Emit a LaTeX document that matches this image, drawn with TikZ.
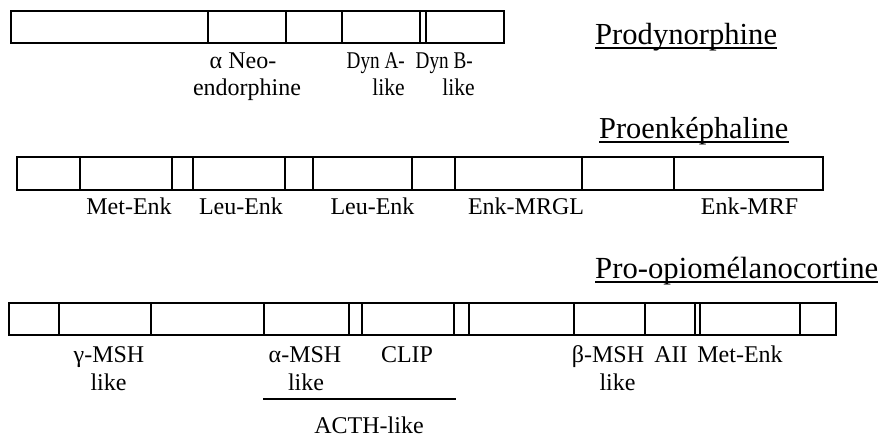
\documentclass[tikz,border=0pt]{standalone}
\usepackage{fontspec}
\usepackage{graphicx}
\setmainfont{Liberation Serif}
\begin{document}
\begin{tikzpicture}[x=1pt,y=-1pt,
  bar/.style={draw=black,line width=1.3pt},
  divider/.style={line width=1.3pt},
  lbl/.style={anchor=base,inner sep=0pt,font=\fontsize{24}{28}\selectfont},
  lble/.style={anchor=base east,inner sep=0pt,font=\fontsize{24}{28}\selectfont},
  ttl/.style={anchor=base west,inner sep=0pt},
  uline/.style={line width=1.5pt}]
\useasboundingbox (0,0) rectangle (882,437);

% ---------- Prodynorphine ----------
\draw[bar] (11,11) rectangle (504,43);
\foreach \x in {208,286,342,420,426} \draw[divider] (\x,11) -- (\x,43);
\node[ttl,font=\fontsize{30.6}{34}\selectfont] (t1) at (595,44) {Prodynorphine};
\draw[uline] ([yshift=-4pt]t1.base west) -- ([yshift=-4pt]t1.base east);
\node[lbl] (a1) at (243,68) {α Neo-};
\node[lbl] (a2) at (247,95) {endorphine};
\node[lble] (b1) at (405,68) {\scalebox{0.8}[1]{Dyn A-}};
\node[lble] (b2) at (405,95) {\scalebox{0.9}[1]{like}};
\node[lble] (c1) at (473,68) {\scalebox{0.8}[1]{Dyn B-}};
\node[lble] (c2) at (475,95) {\scalebox{0.9}[1]{like}};

% ---------- Proenkephaline ----------
\node[ttl,font=\fontsize{30.4}{34}\selectfont] (t2) at (599,138) {Proenképhaline};
\draw[uline] ([yshift=-4pt]t2.base west) -- ([yshift=-4pt]t2.base east);
\draw[bar] (17,157) rectangle (823,190);
\foreach \x in {80,172,193,285,313,412,455,582,674} \draw[divider] (\x,157) -- (\x,190);
\node[lbl] (d1) at (129,214) {Met-Enk};
\node[lbl] (d2) at (241,214) {Leu-Enk};
\node[lbl] (d3) at (372.5,214) {Leu-Enk};
\node[lbl] (d4) at (526,214) {Enk-MRGL};
\node[lbl] (d5) at (749.5,214) {Enk-MRF};

% ---------- Pro-opiomelanocortine ----------
\node[ttl,font=\fontsize{30.7}{34}\selectfont] (t3) at (595,278) {Pro-opiomélanocortine};
\draw[uline] ([yshift=-4pt]t3.base west) -- ([yshift=-4pt]t3.base east);
\draw[bar] (9,303) rectangle (836,335);
\foreach \x in {59,151,264,349,362,454,469,574,645,695,700,800} \draw[divider] (\x,303) -- (\x,335);
\node[lbl] (e1) at (109,362) {γ-MSH};
\node[lbl] (e2) at (108.5,390) {like};
\node[lbl] (f1) at (305,362) {α-MSH};
\node[lbl] (f2) at (306,390) {like};
\node[lbl] (g1) at (407,362) {CLIP};
\node[lbl] (h1) at (608,362) {β-MSH};
\node[lbl] (h2) at (617.5,390) {like};
\node[lbl] (i1) at (671,362) {AII};
\node[lbl] (j1) at (740,362) {Met-Enk};
\coordinate (acthL) at (263,399);
\coordinate (acthR) at (456,399);
\draw[line width=1.3pt] (acthL) -- (acthR);
\node[lbl] (k1) at (369,433) {ACTH-like};
\end{tikzpicture}
\end{document}
